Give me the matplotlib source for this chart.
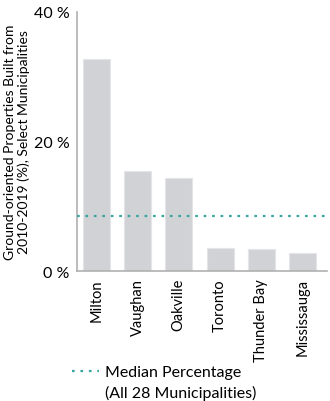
import matplotlib.pyplot as plt
from matplotlib.lines import Line2D

plt.rcParams['font.family'] = ['Lato', 'DejaVu Sans']

# data
municipalities = ["Milton", "Vaughan", "Oakville", "Toronto", "Thunder Bay", "Mississauga"]
pct_built = [32.7, 15.4, 14.4, 3.5, 3.4, 2.8]
median_pct = 8.5
yticks = [0, 20, 40]
ytick_labels = ["0 %", "20 %", "40 %"]

fig = plt.figure(figsize=(3.3, 4.02), dpi=100)
ax = fig.add_axes([0.232, 0.323, 0.76, 0.645])

x = list(range(len(municipalities)))
ax.bar(x, pct_built, width=0.65, color="#d1d2d6", edgecolor="#e4e5e8", linewidth=0.8, zorder=2)
ax.axhline(median_pct, color="#3aa59a", linestyle=(0, (1.2, 2.6)), linewidth=1.6, zorder=3)

ax.set_xlim(-0.48, 5.6)
ax.set_ylim(0, 40)
ax.set_yticks(yticks)
ax.set_yticklabels(ytick_labels, fontsize=11.5)
ax.set_xticks(x)
ax.set_xticklabels(municipalities, rotation=90, fontsize=10.5)
ax.tick_params(axis="both", length=0, pad=5)

for side in ["top", "right"]:
    ax.spines[side].set_visible(False)
for side in ["left", "bottom"]:
    ax.spines[side].set_color("#b0b0b0")
    ax.spines[side].set_linewidth(1.2)

ax.set_ylabel("Ground-oriented Properties Built from\n2010-2019 (%), Select Municipalities",
              fontsize=10, labelpad=3, linespacing=1.1)

# legend: marker sits on the first line, second line hangs below
handle = Line2D([], [], color="#3aa59a", linestyle=(0, (1.2, 2.6)), linewidth=1.6)
fig.legend([handle], ["Median Percentage"],
           loc="center left", bbox_to_anchor=(0.218, 0.072), frameon=False,
           fontsize=11.5, handlelength=1.7, handletextpad=0.4,
           borderpad=0, borderaxespad=0)
fig.text(0.318, 0.022, "(All 28 Municipalities)", fontsize=11.5, va="center", ha="left")

fig.savefig("out.png", dpi=100)
